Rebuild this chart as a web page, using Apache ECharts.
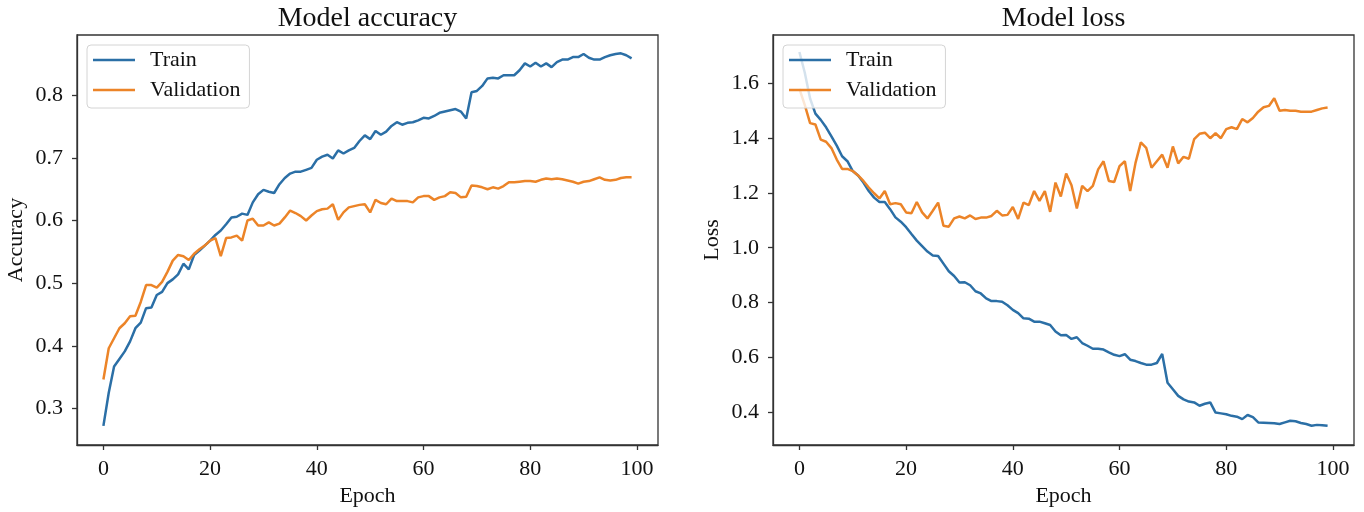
<!DOCTYPE html>
<html>
<head>
<meta charset="utf-8">
<script src="https://cdn.jsdelivr.net/npm/echarts@6/dist/echarts.min.js"></script>
<style>html,body{margin:0;padding:0;background:#fff;}#c{width:1364px;height:512px;}</style>
</head>
<body>
<div id="c"></div>
<script>
const seriesNames = ['Train', 'Validation'];
const titles = ['Model accuracy', 'Model loss'];
const yNames = ['Accuracy', 'Loss'];
const xName = 'Epoch';
const xTicks = [0, 20, 40, 60, 80, 100];
const accTicks = [0.3, 0.4, 0.5, 0.6, 0.7, 0.8];
const lossTicks = [0.4, 0.6, 0.8, 1.0, 1.2, 1.4, 1.6];

const accTrain = [
0.272,0.325,0.367,0.379,0.391,0.407,0.428,0.437,0.460,0.461,
0.481,0.486,0.500,0.506,0.514,0.531,0.522,0.545,0.552,0.560,
0.568,0.577,0.584,0.594,0.605,0.606,0.611,0.609,0.629,0.642,
0.649,0.646,0.644,0.658,0.668,0.675,0.678,0.678,0.681,0.684,
0.697,0.702,0.705,0.699,0.712,0.707,0.712,0.716,0.727,0.736,
0.730,0.743,0.737,0.742,0.751,0.757,0.753,0.756,0.757,0.760,
0.764,0.763,0.767,0.772,0.774,0.776,0.778,0.774,0.763,0.805,
0.807,0.815,0.827,0.828,0.827,0.832,0.832,0.832,0.840,0.851,
0.846,0.852,0.846,0.851,0.845,0.853,0.857,0.857,0.861,0.861,
0.866,0.860,0.857,0.857,0.861,0.864,0.866,0.867,0.864,0.859];

const accVal = [
0.346,0.396,0.412,0.428,0.436,0.447,0.448,0.470,0.497,0.497,
0.493,0.502,0.518,0.536,0.545,0.543,0.537,0.547,0.554,0.560,
0.568,0.572,0.543,0.572,0.573,0.576,0.568,0.600,0.603,0.592,
0.592,0.597,0.592,0.595,0.605,0.616,0.612,0.607,0.600,0.608,
0.615,0.618,0.619,0.626,0.601,0.613,0.621,0.623,0.625,0.626,
0.613,0.633,0.628,0.626,0.635,0.631,0.631,0.631,0.629,0.637,
0.639,0.639,0.633,0.637,0.639,0.645,0.644,0.637,0.638,0.656,
0.655,0.653,0.650,0.653,0.651,0.655,0.661,0.661,0.662,0.663,
0.663,0.662,0.665,0.667,0.666,0.667,0.666,0.664,0.662,0.659,
0.662,0.663,0.666,0.669,0.665,0.664,0.665,0.668,0.669,0.669];

const lossTrain = [
1.715,1.640,1.545,1.490,1.467,1.440,1.407,1.373,1.334,1.316,
1.280,1.264,1.238,1.207,1.183,1.167,1.167,1.141,1.111,1.095,
1.075,1.050,1.026,1.006,0.986,0.972,0.970,0.942,0.914,0.897,
0.873,0.874,0.863,0.841,0.833,0.815,0.805,0.805,0.803,0.790,
0.773,0.761,0.742,0.741,0.730,0.730,0.724,0.718,0.694,0.680,
0.681,0.667,0.673,0.652,0.642,0.631,0.631,0.628,0.618,0.609,
0.604,0.611,0.591,0.586,0.579,0.573,0.573,0.579,0.612,0.507,
0.483,0.459,0.446,0.438,0.435,0.423,0.430,0.435,0.398,0.395,
0.392,0.386,0.383,0.374,0.389,0.381,0.362,0.361,0.360,0.359,
0.356,0.362,0.368,0.366,0.360,0.356,0.350,0.353,0.352,0.350];

const lossVal = [
1.580,1.522,1.455,1.450,1.395,1.387,1.364,1.322,1.288,1.288,
1.280,1.264,1.244,1.220,1.199,1.180,1.207,1.159,1.163,1.159,
1.129,1.126,1.167,1.129,1.107,1.135,1.165,1.080,1.077,1.107,
1.114,1.107,1.118,1.105,1.110,1.110,1.116,1.135,1.118,1.120,
1.149,1.105,1.165,1.156,1.207,1.171,1.207,1.131,1.238,1.187,
1.271,1.228,1.143,1.226,1.207,1.226,1.286,1.316,1.244,1.240,
1.298,1.316,1.207,1.310,1.385,1.365,1.292,1.316,1.340,1.292,
1.370,1.308,1.332,1.325,1.397,1.416,1.420,1.400,1.418,1.400,
1.433,1.440,1.433,1.470,1.458,1.474,1.497,1.513,1.518,1.546,
1.500,1.503,1.500,1.500,1.497,1.497,1.497,1.503,1.509,1.512];

const colors = ['#2b6fa6', '#ec8428'];
const FONT = '"Liberation Serif", "DejaVu Serif", serif';
const AXIS_COLOR = '#333';

function pairs(arr) { return arr.map((v, i) => [i, v]); }

const gridLefts = [77, 773];
const gridW = 581;
const yRanges = [[0.2415, 0.8963], [0.2795, 1.777]];
const yTicks = [accTicks, lossTicks];
const data = [[accTrain, accVal], [lossTrain, lossVal]];

const option = {
  animation: false,
  backgroundColor: '#fff',
  title: titles.map((t, i) => ({
    text: t,
    left: gridLefts[i] + gridW / 2,
    textAlign: 'center',
    top: 5,
    padding: 0,
    textStyle: { fontFamily: FONT, fontSize: 28, fontWeight: 'normal', color: '#111' }
  })),
  legend: gridLefts.map((gl, i) => ({
    data: seriesNames,
    orient: 'vertical',
    left: gl + 10,
    top: 45,
    icon: 'rect',
    itemWidth: 42,
    itemHeight: 2.5,
    itemGap: 8,
    padding: [4, 9, 7, 6],
    borderColor: '#d4d4d4',
    borderWidth: 1,
    borderRadius: 4,
    backgroundColor: 'rgba(255,255,255,0.8)',
    selectedMode: false,
    textStyle: { fontFamily: FONT, fontSize: 22, color: '#111', lineHeight: 22, padding: [0, 0, 0, 10] }
  })),
  grid: gridLefts.map(gl => ({
    left: gl, top: 35, width: gridW, height: 413,
    show: true, borderColor: AXIS_COLOR, borderWidth: 1.3, backgroundColor: 'transparent'
  })),
  xAxis: gridLefts.map((gl, i) => ({
    type: 'value', gridIndex: i, min: -4.95, max: 103.95, position: 'bottom',
    name: xName, nameLocation: 'middle', nameGap: 40,
    nameTextStyle: { fontFamily: FONT, fontSize: 22, color: '#111' },
    splitLine: { show: false },
    axisLine: { show: true, onZero: false, lineStyle: { color: AXIS_COLOR, width: 1.3 } },
    axisTick: { show: true, length: 5, lineStyle: { color: AXIS_COLOR, width: 1.3 }, customValues: xTicks },
    axisLabel: { customValues: xTicks, margin: 13, fontFamily: FONT, fontSize: 22, color: '#111', formatter: v => String(v) }
  })),
  yAxis: gridLefts.map((gl, i) => ({
    type: 'value', gridIndex: i, min: yRanges[i][0], max: yRanges[i][1], position: 'left',
    name: yNames[i], nameLocation: 'middle', nameGap: 50, nameRotate: 90,
    nameTextStyle: { fontFamily: FONT, fontSize: 22, color: '#111' },
    splitLine: { show: false },
    axisLine: { show: true, onZero: false, lineStyle: { color: AXIS_COLOR, width: 1.3 } },
    axisTick: { show: true, length: 5, lineStyle: { color: AXIS_COLOR, width: 1.3 }, customValues: yTicks[i] },
    axisLabel: { customValues: yTicks[i], margin: 14, fontFamily: FONT, fontSize: 22, color: '#111', formatter: v => v.toFixed(1) }
  })),
  series: []
};

[0, 1].forEach(g => {
  seriesNames.forEach((name, s) => {
    option.series.push({
      type: 'line', name: name, xAxisIndex: g, yAxisIndex: g,
      data: pairs(data[g][s]), symbol: 'none', smooth: false,
      lineStyle: { color: colors[s], width: 2.5 }, itemStyle: { color: colors[s] },
      z: 2 + s
    });
  });
});

const chart = echarts.init(document.getElementById('c'), null, { renderer: 'canvas' });
chart.setOption(option);
</script>
</body>
</html>
